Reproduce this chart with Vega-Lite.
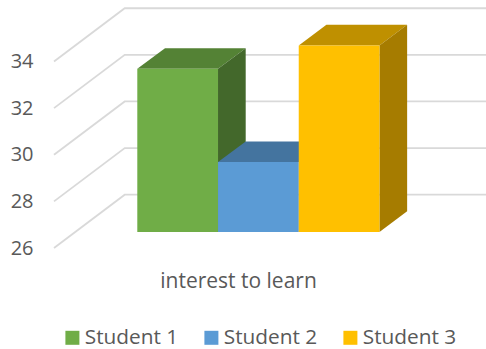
{
  "$schema": "https://vega.github.io/schema/vega-lite/v6.json",
  "autosize": {"type": "none"},
  "padding": {"left": 54, "top": 0, "right": 0, "bottom": 101},
  "width": 432,
  "height": 248,
  "background": "white",
  "config": {"view": {"stroke": null}, "font": "Open Sans"},
  "datasets": {
    "walls": [
      {"line": "26", "x": -1.032, "value": 26, "o": 1}, {"line": "26", "x": -0.156, "value": 28.287, "o": 2}, {"line": "26", "x": 4.32, "value": 28.287, "o": 3},
      {"line": "28", "x": -1.032, "value": 28, "o": 1}, {"line": "28", "x": -0.156, "value": 30.287, "o": 2}, {"line": "28", "x": 4.32, "value": 30.287, "o": 3},
      {"line": "30", "x": -1.032, "value": 30, "o": 1}, {"line": "30", "x": -0.156, "value": 32.287, "o": 2}, {"line": "30", "x": 4.32, "value": 32.287, "o": 3},
      {"line": "32", "x": -1.032, "value": 32, "o": 1}, {"line": "32", "x": -0.156, "value": 34.287, "o": 2}, {"line": "32", "x": 4.32, "value": 34.287, "o": 3},
      {"line": "34", "x": -1.032, "value": 34, "o": 1}, {"line": "34", "x": -0.156, "value": 36.287, "o": 2}, {"line": "34", "x": 4.32, "value": 36.287, "o": 3}
    ],
    "faces": [
      {"face": "Student 1 top", "x": 0, "value": 33, "o": 1}, {"face": "Student 1 top", "x": 1, "value": 33, "o": 2}, {"face": "Student 1 top", "x": 1.343, "value": 33.888, "o": 3}, {"face": "Student 1 top", "x": 0.343, "value": 33.888, "o": 4},
      {"face": "Student 1 side", "x": 1, "value": 33, "o": 1}, {"face": "Student 1 side", "x": 1.343, "value": 33.888, "o": 2}, {"face": "Student 1 side", "x": 1.343, "value": 26.888, "o": 3}, {"face": "Student 1 side", "x": 1, "value": 26, "o": 4},
      {"face": "Student 2 side", "x": 2, "value": 29, "o": 1}, {"face": "Student 2 side", "x": 2.343, "value": 29.888, "o": 2}, {"face": "Student 2 side", "x": 2.343, "value": 26.888, "o": 3}, {"face": "Student 2 side", "x": 2, "value": 26, "o": 4},
      {"face": "Student 2 top", "x": 1, "value": 29, "o": 1}, {"face": "Student 2 top", "x": 2, "value": 29, "o": 2}, {"face": "Student 2 top", "x": 2.343, "value": 29.888, "o": 3}, {"face": "Student 2 top", "x": 1.343, "value": 29.888, "o": 4},
      {"face": "Student 3 top", "x": 2, "value": 34, "o": 1}, {"face": "Student 3 top", "x": 3, "value": 34, "o": 2}, {"face": "Student 3 top", "x": 3.343, "value": 34.888, "o": 3}, {"face": "Student 3 top", "x": 2.343, "value": 34.888, "o": 4},
      {"face": "Student 3 side", "x": 3, "value": 34, "o": 1}, {"face": "Student 3 side", "x": 3.343, "value": 34.888, "o": 2}, {"face": "Student 3 side", "x": 3.343, "value": 26.888, "o": 3}, {"face": "Student 3 side", "x": 3, "value": 26, "o": 4}
    ],
    "scores": [
      {"student": "Student 1", "x": 0, "x2": 1, "value": 33},
      {"student": "Student 2", "x": 1, "x2": 2, "value": 29},
      {"student": "Student 3", "x": 2, "x2": 3, "value": 34}
    ]
  },
  "encoding": {
    "x": {
      "field": "x",
      "type": "quantitative",
      "scale": {"domain": [-1.032, 4.32], "nice": false, "zero": false},
      "axis": {
        "title": "interest to learn",
        "titleFontSize": 21,
        "titleFontWeight": "normal",
        "titleColor": "#595959",
        "titleX": 184,
        "titleY": 22,
        "labels": false,
        "ticks": false,
        "domain": false,
        "grid": false
      }
    },
    "y": {
      "field": "value",
      "type": "quantitative",
      "scale": {"domain": [26, 36.64], "nice": false, "zero": false},
      "axis": {
        "title": null,
        "values": [26, 28, 30, 32, 34],
        "labelFontSize": 20,
        "labelColor": "#595959",
        "labelPadding": 21,
        "ticks": false,
        "tickSize": 0,
        "domain": false,
        "grid": false
      }
    }
  },
  "layer": [
    {
      "data": {"name": "walls"},
      "mark": {"type": "line", "stroke": "#d9d9d9", "strokeWidth": 1.8},
      "encoding": {
        "detail": {"field": "line"},
        "order": {"field": "o"}
      }
    },
    {
      "data": {"name": "faces"},
      "mark": {"type": "line", "interpolate": "linear-closed", "strokeWidth": 0, "yOffset": -16},
      "encoding": {
        "fill": {
          "field": "face",
          "type": "nominal",
          "legend": null,
          "scale": {
            "domain": ["Student 1 top", "Student 1 side", "Student 2 side", "Student 2 top", "Student 3 top", "Student 3 side"],
            "range": ["#548235", "#43682b", "#3b6797", "#44749f", "#bf9000", "#a67c00"]
          }
        },
        "order": {"field": "o"}
      }
    },
    {
      "data": {"name": "scores"},
      "mark": {"type": "rect", "yOffset": -16, "y2Offset": -16},
      "encoding": {
        "x2": {"field": "x2"},
        "y2": {"datum": 26},
        "color": {
          "field": "student",
          "type": "nominal",
          "scale": {
            "domain": ["Student 1", "Student 2", "Student 3"],
            "range": ["#70ad47", "#5b9bd5", "#ffc000"]
          },
          "legend": {
            "title": null,
            "orient": "none",
            "legendX": 8,
            "legendY": 327,
            "direction": "horizontal",
            "columns": 3,
            "symbolType": "square",
            "symbolSize": 196,
            "labelFontSize": 20.8,
            "labelColor": "#595959",
            "labelOffset": 2,
            "columnPadding": 22
          }
        }
      }
    }
  ]
}
